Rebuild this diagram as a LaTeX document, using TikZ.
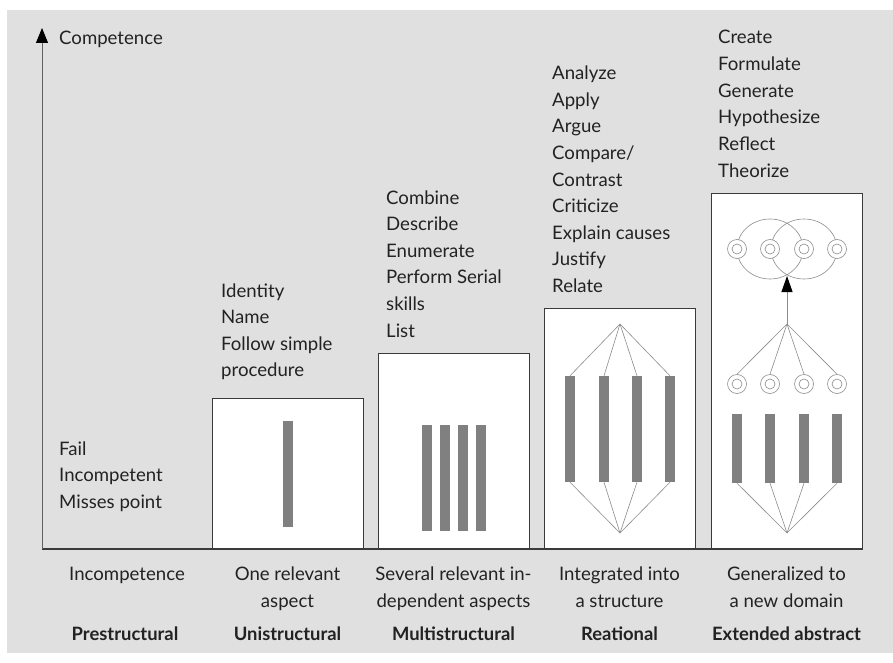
\documentclass[tikz,border=0pt]{standalone}
\usepackage{fontspec}
\setmainfont{Lato}
\usetikzlibrary{arrows.meta}
\definecolor{bggray}{HTML}{E0E0E0}
\definecolor{bargray}{HTML}{808080}
\definecolor{fangray}{HTML}{8C8C8C}
\definecolor{boxgray}{HTML}{3A3A3A}
\definecolor{inkgray}{HTML}{222222}
\tikzset{
  item/.style={anchor=base west, inner sep=0pt, text=inkgray, font=\fontsize{18.6}{22}\selectfont},
  caption/.style={anchor=base, inner sep=0pt, text=inkgray, font=\fontsize{18.6}{22}\selectfont},
  level/.style={caption, font=\fontsize{18.4}{22}\selectfont\bfseries},
  levelbox/.style={draw=boxgray, fill=white, line width=0.9pt},
  bar/.style={rectangle, fill=bargray, inner sep=0pt, minimum width=10pt},
  fan/.style={draw=fangray, line width=0.6pt},
  ring/.style={circle, draw=fangray, fill=white, line width=0.6pt, inner sep=0pt, minimum size=19pt,
    path picture={\draw[fangray, line width=0.6pt] (path picture bounding box.center) circle (5pt);}}
}
\begin{document}
\begin{tikzpicture}[x=1pt,y=-1pt]
        \useasboundingbox (0,0) rectangle (893,663);
        % Background
        \fill[bggray] (7,10) rectangle (893,653);
        % Level boxes
        \draw[levelbox] (212,549) rectangle (363,398);
        \draw[levelbox] (378,549) rectangle (529,353);
        \draw[levelbox] (544,549) rectangle (695,308);
        \draw[levelbox] (711,549) rectangle (862,193);
        % Axes
        \coordinate (origin) at (42,549);
        \coordinate (top) at (42,28);
        \coordinate (right) at (862,549);
        \draw[boxgray, line width=1.7pt] (origin) -- (right);
        \draw[boxgray!80, line width=0.9pt, -{Triangle[width=12pt,length=15pt,color=black]}] (origin) -- (top);
        \node[item] (comp) at (59,45) {Competence};

        % Prestructural
        \foreach \w [count=\i from 0] in {Fail,Incompetent,Misses point}
          \node[item] (pre\i) at (59,455+26.6*\i) {\w};
        % Unistructural
        \foreach \w [count=\i from 0] in {Identity,Name,Follow simple,procedure}
          \node[item] (uni\i) at (221,297+26.6*\i) {\w};
        \node[bar, minimum height=106pt] (ub) at (288,474) {};
        % Multistructural
        \foreach \w [count=\i from 0] in {Combine,Describe,Enumerate,Perform Serial,skills,List}
          \node[item] (mul\i) at (386,204+26.6*\i) {\w};
        \foreach \x [count=\i] in {427,445,463,481}
          \node[bar, minimum height=106pt] (mb\i) at (\x,478) {};
        % Relational
        \foreach \w [count=\i from 0] in {Analyze,Apply,Argue,Compare/,Contrast,Criticize,Explain causes,Justify,Relate}
          \node[item] (rel\i) at (552,80+26.5*\i) {\w};
        \coordinate (rtop) at (620,324);
        \coordinate (rbot) at (620,533);
        \foreach \x [count=\i] in {570,604,637,670} {
          \node[bar, minimum height=106pt] (rb\i) at (\x,429) {};
          \draw[fan] (rtop) -- (rb\i.north);
          \draw[fan] (rb\i.south) -- (rbot);
        }
        % Extended abstract
        \foreach \w [count=\i from 0] in {Create,Formulate,Generate,Hypothesize,Reflect,Theorize}
          \node[item] (ext\i) at (718,44+26.6*\i) {\w};
        \coordinate (etop) at (787,324);
        \coordinate (ebot) at (787,533);
        \coordinate (emeet) at (787,276);
        \draw[fan] (770,249) ellipse [x radius=33, y radius=30];
        \draw[fan] (804,249) ellipse [x radius=33, y radius=30];
        \foreach \x [count=\i] in {737,770,804,837} {
          \node[bar, minimum height=69pt] (eb\i) at (\x,448.5) {};
          \draw[fan] (eb\i.south) -- (ebot);
          \node[ring] (lo\i) at (\x,384) {};
          \draw[fan] (etop) -- (lo\i.north);
          \node[ring] (up\i) at (\x,249) {};
        }
        \draw[fangray, line width=1pt, -{Triangle[width=11pt,length=16pt,color=black]}] (etop) -- (emeet);

        % Captions
        \node[caption] (c1) at (127,580) {Incompetence};
        \node[caption] (c2a) at (287.5,580) {One relevant};
        \node[caption] (c2b) at (287.5,607) {aspect};
        \node[caption] (c3a) at (453.5,580) {Several relevant in-};
        \node[caption] (c3b) at (453.5,607) {dependent aspects};
        \node[caption] (c4a) at (619.5,580) {Integrated into};
        \node[caption] (c4b) at (619.5,607) {a structure};
        \node[caption] (c5a) at (786.5,580) {Generalized to};
        \node[caption] (c5b) at (786.5,607) {a new domain};
        % Level names
        \node[level] (l1) at (125,640) {Prestructural};
        \node[level] (l2) at (287.5,640) {Unistructural};
        \node[level] (l3) at (453.5,640) {Multistructural};
        \node[level] (l4) at (619.5,640) {Reational};
        \node[level] (l5) at (786.5,640) {Extended abstract};
    \end{tikzpicture}
\end{document}
